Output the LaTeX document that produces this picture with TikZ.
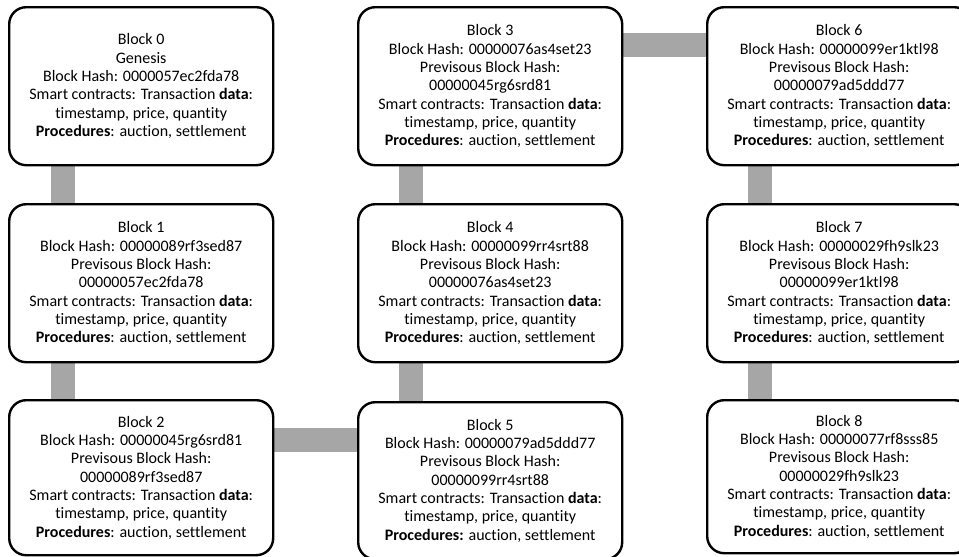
\documentclass[tikz,border=0pt]{standalone}
\usepackage{fontspec}
\setmainfont{Carlito}[Ligatures=NoCommon]
\usetikzlibrary{backgrounds}
\newcommand\smarttail{Smart contracts: Transaction \textbf{data}:\\ timestamp, price, quantity\\ \textbf{Procedures}: auction, settlement}
\newcommand\smarttailb{Smart contracts: Transaction \textbf{data}:\\ timestamp, price, quantity\\ \textbf{Procedures:} auction, settlement}
\begin{document}
\begin{tikzpicture}[x=1pt,y=-1pt,
  blockbox/.style={draw=black, line width=2.4pt, fill=white, rounded corners=17pt,
    rectangle, anchor=north west, inner sep=0pt, minimum width=264pt,
    align=center, font=\fontsize{16}{18.3}\selectfont},
  conn/.style={draw={rgb,255:red,166;green,166;blue,166}, line width=24pt}]
\useasboundingbox (0,0) rectangle (959,557);
\clip (0,0) rectangle (959,557);
% blocks
\node[blockbox, minimum height=158pt] (b0) at (8,6)
  {Block 0\\ Genesis\\ Block Hash: 0000057ec2fda78\\ \smarttail};
\node[blockbox, minimum height=158pt] (b1) at (8,203)
  {Block 1\\ Block Hash: 00000089rf3sed87\\ Previsous Block Hash:\\ 00000057ec2fda78\\ \smarttail};
\node[blockbox, minimum height=155pt] (b2) at (8,399)
  {Block 2\\ Block Hash: 00000045rg6srd81\\ Previsous Block Hash:\\ 00000089rf3sed87\\ \smarttail};
\node[blockbox, minimum height=158pt] (b3) at (357,6)
  {Block 3\\ Block Hash: 00000076as4set23\\ Previsous Block Hash:\\ 00000045rg6srd81\\ \smarttail};
\node[blockbox, minimum height=158pt] (b4) at (357,203)
  {Block 4\\ Block Hash: 00000099rr4srt88\\ Previsous Block Hash:\\ 00000076as4set23\\ \smarttail};
\node[blockbox, minimum height=157pt] (b5) at (357,401)
  {Block 5\\ Block Hash: 00000079ad5ddd77\\ Previsous Block Hash:\\ 00000099rr4srt88\\ \smarttailb};
\node[blockbox, minimum height=158pt] (b6) at (706,6)
  {Block 6\\ Block Hash: 00000099er1ktl98\\ Previsous Block Hash:\\ 00000079ad5ddd77\\ \smarttail};
\node[blockbox, minimum height=158pt] (b7) at (706,203)
  {Block 7\\ Block Hash: 00000029fh9slk23\\ Previsous Block Hash:\\ 00000099er1ktl98\\ \smarttail};
\node[blockbox, minimum height=153pt] (b8) at (706,399)
  {Block 8\\ Block Hash: 00000077rf8sss85\\ Previsous Block Hash:\\ 00000029fh9slk23\\ \smarttail};
% connectors behind the blocks
\begin{scope}[on background layer]
\fill[white] (0,0) rectangle (959,557);
\draw[conn] ([xshift=55pt]b0.south west) -- ([xshift=55pt]b1.north west);
\draw[conn] ([xshift=55pt]b1.south west) -- ([xshift=55pt]b2.north west);
\draw[conn] ([yshift=-41pt]b2.north east) -- ([yshift=-41pt]b2.north east -| b5.west);
\draw[conn] ([xshift=54pt]b5.north west) -- ([xshift=54pt]b4.south west);
\draw[conn] ([xshift=54pt]b4.north west) -- ([xshift=54pt]b3.south west);
\draw[conn] ([yshift=-39pt]b3.north east) -- ([yshift=-39pt]b3.north east -| b6.west);
\draw[conn] ([xshift=54pt]b6.south west) -- ([xshift=54pt]b7.north west);
\draw[conn] ([xshift=54pt]b7.south west) -- ([xshift=54pt]b8.north west);
\end{scope}
\end{tikzpicture}
\end{document}
